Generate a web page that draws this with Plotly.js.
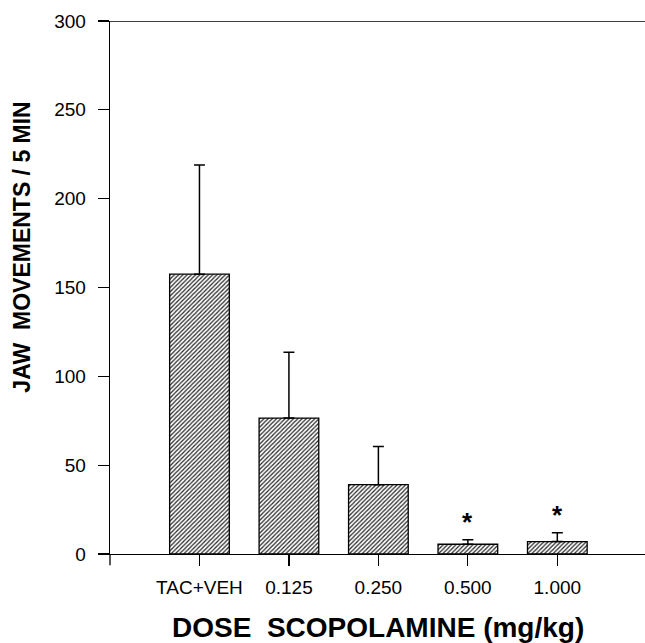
<!DOCTYPE html>
<html>
<head>
<meta charset="utf-8">
<script src="https://cdn.plot.ly/plotly-3.0.1.min.js"></script>
<style>html,body{margin:0;padding:0;background:#fff;}#chart{width:645px;height:643px;}</style>
</head>
<body>
<div id="chart"></div>
<script>
const categories = ["TAC+VEH", "0.125", "0.250", "0.500", "1.000"];
const jawMovements = [157.5, 76.5, 39, 5.5, 7];
const semUpper = [61.5, 37, 21.5, 2.5, 5];
const significant = [false, false, false, true, true];

const FONT = "Liberation Sans, Arial, Helvetica, sans-serif";
const idx = categories.map((c, i) => i);

const trace = {
  type: "bar",
  x: idx,
  y: jawMovements,
  width: 0.667,
  marker: {
    color: "#ffffff",
    line: {color: "#000000", width: 1.3},
    pattern: {shape: "/", fgcolor: "#2a2a2a", bgcolor: "#ffffff", size: 3, solidity: 0.42}
  },
  error_y: {
    type: "data", symmetric: false, array: semUpper,
    arrayminus: semUpper.map(() => 0),
    color: "#000000", thickness: 1.5, width: 5.5
  },
  hoverinfo: "skip"
};

const annotations = [];
idx.forEach(i => {
  if (significant[i]) {
    annotations.push({
      x: i, y: jawMovements[i] + semUpper[i], xref: "x", yref: "y",
      text: "<b>*</b>", showarrow: false, yanchor: "bottom", yshift: 1,
      font: {family: FONT, size: 26, color: "#000"}
    });
  }
});
annotations.push({
  x: -0.1645, xref: "paper", y: 173, yref: "y",
  text: "<b>JAW\u00A0\u00A0MOVEMENTS / 5 MIN</b>", textangle: -90, showarrow: false,
  xanchor: "center", yanchor: "middle",
  font: {family: FONT, size: 23, color: "#000"}
});
annotations.push({
  x: 0.5, xref: "paper", y: -0.137, yref: "paper",
  text: "<b>DOSE\u00A0\u00A0SCOPOLAMINE (mg/kg)</b>", showarrow: false,
  xanchor: "center", yanchor: "middle",
  font: {family: FONT, size: 28, color: "#000"}
});

const layout = {
  width: 645, height: 643,
  margin: {l: 110, r: 0, t: 21, b: 89},
  paper_bgcolor: "#ffffff", plot_bgcolor: "#ffffff",
  showlegend: false,
  font: {family: FONT, color: "#000"},
  xaxis: {
    range: [-1, 4.98], tickvals: idx, ticktext: categories,
    showgrid: false, zeroline: false, showline: true, linecolor: "#000", linewidth: 1.3,
    ticks: "outside", ticklen: 11, tickwidth: 1.2, tickcolor: "#000", ticklabelstandoff: 5,
    tickfont: {family: FONT, size: 19, color: "#000"}
  },
  yaxis: {
    range: [0, 300], tickvals: [0, 50, 100, 150, 200, 250, 300],
    showgrid: false, zeroline: false, showline: true, linecolor: "#000", linewidth: 1.3,
    ticks: "outside", ticklen: 11, tickwidth: 1.2, tickcolor: "#000", ticklabelstandoff: 8,
    tickfont: {family: FONT, size: 19, color: "#000"}
  },
  shapes: [
    {type: "line", xref: "paper", yref: "y", x0: 0, x1: 1, y0: 300, y1: 300, line: {color: "#000", width: 1.5}},
    {type: "line", xref: "paper", yref: "paper", x0: 0, x1: 0, y0: 0, y1: -0.021, line: {color: "#000", width: 1.3}}
  ],
  annotations: annotations
};

Plotly.newPlot("chart", [trace], layout, {displayModeBar: false, staticPlot: true});
</script>
</body>
</html>
